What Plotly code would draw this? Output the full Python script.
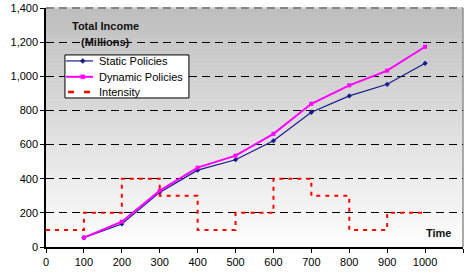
import plotly.graph_objects as go

time_points = [100, 200, 300, 400, 500, 600, 700, 800, 900, 1000]
static_policies = [55, 135, 320, 450, 511, 622, 789, 885, 953, 1076]
dynamic_policies = [55, 148, 330, 465, 535, 663, 839, 947, 1033, 1173]
intensity_x = [0, 100, 200, 300, 400, 500, 600, 700, 800, 900, 1000]
intensity_y = [100, 200, 400, 300, 100, 200, 400, 300, 100, 200, 200]

series_names = ["Static Policies", "Dynamic Policies", "Intensity"]
series_colors = ["#1a1a8c", "#ff00ff", "#ff0000"]

y_ticks = [0, 200, 400, 600, 800, 1000, 1200, 1400]
x_ticks = list(range(0, 1101, 100))

fig = go.Figure()

# gradient background bands
n = 60
shapes = []
for i in range(n):
    t = i / n
    c = int(255 - (255 - 190) * (t + 0.5 / n))
    shapes.append(dict(type="rect", xref="x domain", yref="y domain",
                       x0=0, x1=1, y0=t, y1=(i + 1) / n + 0.002,
                       fillcolor=f"rgb({c},{c},{c})", line=dict(width=0),
                       layer="below"))
shapes.append(dict(type="line", xref="x domain", yref="y domain", x0=1, x1=1, y0=0, y1=1,
                   line=dict(color="#909090", width=1.5), layer="below"))
# softer top border line
shapes.append(dict(type="line", xref="x domain", yref="y domain", x0=0, x1=1, y0=1, y1=1,
                   line=dict(color="#d4d4d4", width=1.5), layer="above"))
shapes.append(dict(type="line", xref="x domain", yref="y domain", x0=0, x1=1, y0=1, y1=1,
                   line=dict(color="#6e6e6e", width=1.5, dash="8px,5px"), layer="above"))

fig.add_trace(go.Scatter(x=time_points, y=static_policies, name=series_names[0],
                         mode="lines+markers", line=dict(color=series_colors[0], width=1.2),
                         marker=dict(symbol="diamond", size=4, color=series_colors[0])))
fig.add_trace(go.Scatter(x=time_points, y=dynamic_policies, name=series_names[1],
                         mode="lines+markers", line=dict(color=series_colors[1], width=2),
                         marker=dict(symbol="square", size=4, color=series_colors[1])))
fig.add_trace(go.Scatter(x=intensity_x, y=intensity_y, name=series_names[2],
                         mode="lines", line=dict(color=series_colors[2], width=2,
                                                 dash="4px,5px", shape="hv")))

# hand-drawn legend box (Excel-like compact legend)
lx0, lx1, ly0, ly1 = 50, 377, 873, 1125
shapes.append(dict(type="rect", xref="x", yref="y", x0=lx0, x1=lx1, y0=ly0, y1=ly1,
                   fillcolor="white", line=dict(color="black", width=1), layer="above"))
row_y = [1090, 997, 908]
sx0, sx1, sxm, tx = 53, 124, 97, 134
annotations = []
for i, (name, col) in enumerate(zip(series_names, series_colors)):
    if i == 2:
        shapes.append(dict(type="line", xref="x", yref="y", x0=sx0 + 5, x1=sx1 - 5,
                           y0=row_y[i], y1=row_y[i],
                           line=dict(color=col, width=2.5, dash="6px,10px"), layer="above"))
    else:
        shapes.append(dict(type="line", xref="x", yref="y", x0=sx0, x1=sx1,
                           y0=row_y[i], y1=row_y[i],
                           line=dict(color=col, width=1.2 if i == 0 else 2), layer="above"))
    if i == 0:
        shapes.append(dict(type="path", xref="x", yref="y", xsizemode="pixel",
                           ysizemode="pixel", xanchor=sxm, yanchor=row_y[i],
                           path="M0,2.5 L2.5,0 L0,-2.5 L-2.5,0 Z",
                           fillcolor=col, line=dict(color=col, width=0.5), layer="above"))
    elif i == 1:
        shapes.append(dict(type="rect", xref="x", yref="y", xsizemode="pixel",
                           ysizemode="pixel", xanchor=sxm, yanchor=row_y[i],
                           x0=-2, x1=2, y0=-2, y1=2,
                           fillcolor=col, line=dict(color=col, width=0.5), layer="above"))
    annotations.append(dict(text=name, xref="x", yref="y", x=tx, y=row_y[i],
                            xanchor="left", yanchor="middle", showarrow=False,
                            font=dict(size=11, color="black")))

annotations += [
    dict(text="<b>Total Income</b>", xref="x", yref="y", x=158, y=1297,
         showarrow=False, font=dict(size=11, color="#111111")),
    dict(text="<b>(Millions)</b>", xref="x", yref="y", x=158, y=1203,
         showarrow=False, font=dict(size=11, color="#111111")),
    dict(text="<b>Time</b>", xref="x", yref="y", x=1036, y=82,
         showarrow=False, font=dict(size=11, color="#111111")),
]

fig.update_layout(
    width=474, height=274,
    margin=dict(l=46, r=11, t=8, b=27, autoexpand=False),
    paper_bgcolor="white", plot_bgcolor="white",
    font=dict(family="Liberation Sans, Arial", size=11, color="black"),
    shapes=shapes,
    showlegend=False,
    annotations=annotations,
)

fig.update_xaxes(range=[0, 1100], tickvals=x_ticks, showgrid=False, zeroline=False,
                 showline=True, linecolor="black", linewidth=1.5, ticks="outside",
                 ticklen=4, tickcolor="black", tickfont=dict(size=11), automargin=False)
fig.update_yaxes(range=[0, 1400], tickvals=y_ticks, tickformat=",d", showgrid=True,
                 gridcolor="black", griddash="8px,5px", gridwidth=1, zeroline=False,
                 showline=True, linecolor="black", linewidth=1.5, ticks="outside",
                 ticklen=4, tickcolor="black", tickfont=dict(size=11), automargin=False)

fig.write_html("out.html", config={"displayModeBar": False},
               post_script="document.body.style.margin='0';")
